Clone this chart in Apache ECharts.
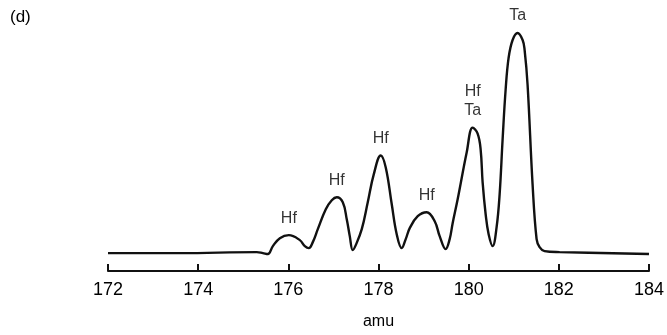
<!DOCTYPE html>
<html>
<head>
<meta charset="utf-8">
<script src="https://cdn.jsdelivr.net/npm/echarts@6/dist/echarts.min.js"></script>
<style>
  html, body { margin: 0; padding: 0; background: #fff; }
  #chart { width: 667px; height: 335px; }
</style>
</head>
<body>
<div id="chart"></div>
<script>
// mass scan (relative intensity, arbitrary units)
const amu = [172.0, 173.6, 175.3, 175.435, 175.546, 175.657, 175.812, 176.011, 176.255, 176.366,
  176.454, 176.543, 176.654, 176.831, 176.964, 177.075, 177.208, 177.296, 177.363, 177.429,
  177.496, 177.629, 177.762, 177.895, 178.05, 178.161, 178.294, 178.404, 178.515, 178.604,
  178.693, 178.87, 179.069, 179.247, 179.357, 179.49, 179.579, 179.645, 179.756, 179.956,
  180.089, 180.199, 180.266, 180.31, 180.377, 180.443, 180.532, 180.62, 180.687, 180.753,
  180.82, 180.886, 180.975, 181.086, 181.197, 181.241, 181.307, 181.418, 181.507, 181.573,
  181.684, 182.017, 184.0];
const intensity = [18, 18, 19, 18, 17, 25, 33, 36, 31, 25,
  23, 29, 42, 62, 71, 74, 69, 52, 35, 21,
  26, 42, 69, 97, 116, 104, 67, 37, 23, 32,
  43, 55, 59, 50, 35, 22, 32, 48, 72, 119,
  144, 138, 122, 89, 57, 37, 25, 44, 77, 132,
  182, 214, 232, 239, 232, 222, 187, 87, 32, 24,
  20, 19, 17];

const peakAmu = [176.011, 177.075, 178.05, 179.069, 180.089, 181.086];
const peakHeight = [36, 74, 116, 59, 144, 239];
const peakLabel = ["Hf", "Hf", "Hf", "Hf", "Hf\nTa", "Ta"];

const xTicks = [172, 174, 176, 178, 180, 182, 184];

const chart = echarts.init(document.getElementById("chart"));
const fontFamily = "Liberation Sans, Arial, sans-serif";

const option = {
  animation: false,
  title: {
    text: "(d)",
    left: 5,
    top: 4,
    textStyle: { fontSize: 17, fontWeight: "normal", color: "#000", fontFamily },
  },
  grid: { left: 108, right: 17, top: 32, bottom: 63 },
  xAxis: {
    type: "value",
    min: xTicks[0],
    max: xTicks[xTicks.length - 1],
    interval: 2,
    name: "amu",
    nameLocation: "middle",
    nameGap: 43,
    nameTextStyle: { fontSize: 16, color: "#000", fontFamily },
    axisLine: { lineStyle: { color: "#111", width: 2 } },
    axisTick: { inside: true, length: 7, lineStyle: { color: "#111", width: 2 } },
    axisLabel: { fontSize: 18, color: "#000", margin: 10, fontFamily },
    splitLine: { show: false },
  },
  yAxis: {
    type: "value",
    min: 0,
    max: 240,
    show: false,
  },
  series: [
    {
      type: "line",
      data: amu.map((a, i) => [a, intensity[i]]),
      smooth: 0.4,
      symbol: "none",
      lineStyle: { color: "#111", width: 2.4 },
    },
    {
      type: "scatter",
      symbolSize: 1,
      itemStyle: { color: "rgba(0,0,0,0)" },
      silent: true,
      data: peakAmu.map((a, i) => ({ value: [a, peakHeight[i]], name: peakLabel[i] })),
      label: {
        show: true,
        position: "top",
        distance: 7,
        fontSize: 16,
        lineHeight: 19,
        color: "#000",
        fontFamily,
        formatter: (p) => p.name,
      },
    },
  ],
};

chart.setOption(option);
</script>
</body>
</html>
